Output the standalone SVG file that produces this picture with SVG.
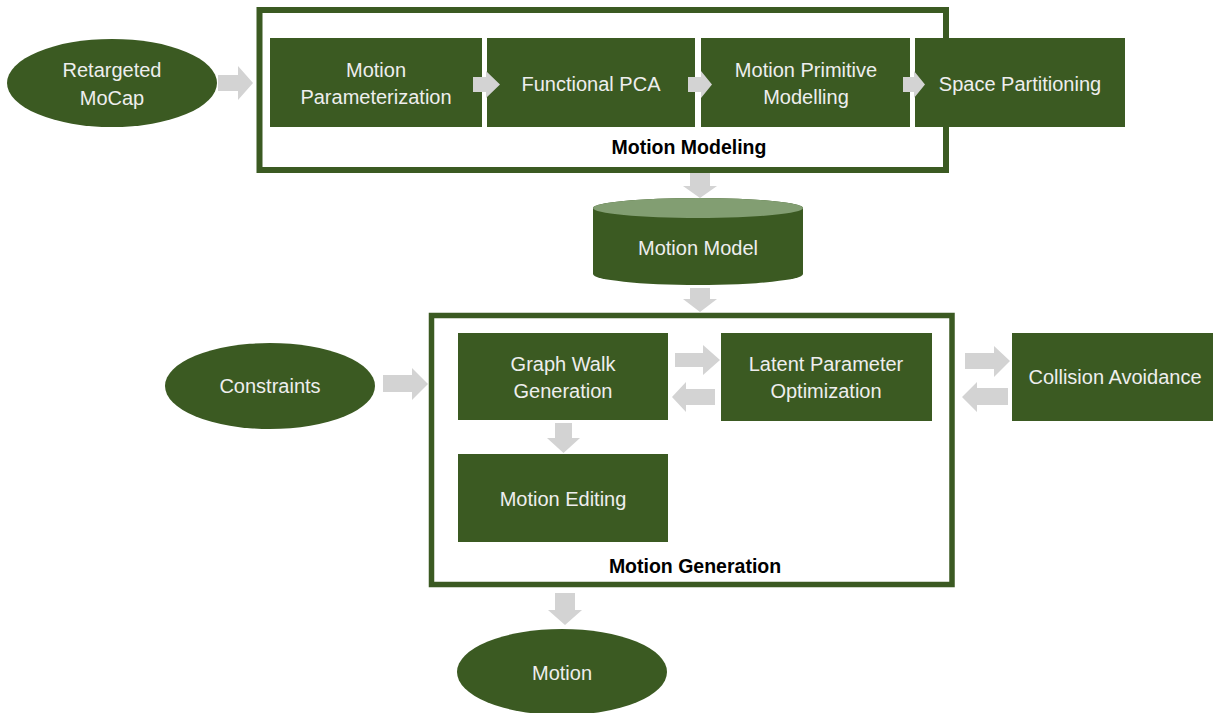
<svg xmlns="http://www.w3.org/2000/svg" width="1213" height="713" viewBox="0 0 1213 713">
<style>
.n{fill:#3B5A22}
.frame{fill:none;stroke:#3B5A22}
.t{font-family:"Liberation Sans",Arial,sans-serif;font-size:20px;fill:#EEEEEE;text-anchor:middle}
.b{font-family:"Liberation Sans",Arial,sans-serif;font-size:19.5px;font-weight:bold;fill:#000;text-anchor:middle}
.a{fill:#D3D3D3}
</style>
<rect width="1213" height="713" fill="#FFFFFF"/>
<g id="motion-modeling-group">
<rect class="frame" x="259.5" y="10" width="686.5" height="160" stroke-width="6"/>
<text class="b" x="689" y="154">Motion Modeling</text>
</g>
<g id="motion-generation-group">
<rect class="frame" x="431.5" y="315.5" width="520.5" height="269" stroke-width="5.5"/>
<text class="b" x="695" y="573">Motion Generation</text>
</g>
<g id="retargeted-mocap">
<ellipse class="n" cx="112" cy="83" rx="105" ry="44"/>
<text class="t" x="112" y="77">Retargeted</text>
<text class="t" x="112" y="105">MoCap</text>
</g>
<g id="motion-parameterization">
<rect class="n" x="270" y="38" width="212" height="89"/>
<text class="t" x="376" y="77">Motion</text>
<text class="t" x="376" y="104">Parameterization</text>
</g>
<g id="functional-pca">
<rect class="n" x="487" y="38" width="208" height="89"/>
<text class="t" x="591" y="91">Functional PCA</text>
</g>
<g id="motion-primitive-modelling">
<rect class="n" x="701" y="38" width="209" height="89"/>
<text class="t" x="806" y="77">Motion Primitive</text>
<text class="t" x="806" y="104">Modelling</text>
</g>
<g id="space-partitioning">
<rect class="n" x="915" y="38" width="210" height="89"/>
<text class="t" x="1020" y="91">Space Partitioning</text>
</g>
<g id="motion-model">
<path class="n" d="M593,208 L593,274 A105,11 0 0 0 803,274 L803,208 A105,10 0 0 0 593,208 Z"/>
<ellipse cx="698" cy="208" rx="105" ry="10" fill="#829E72"/>
<text class="t" x="698" y="255">Motion Model</text>
</g>
<g id="constraints">
<ellipse class="n" cx="270" cy="386" rx="105" ry="43"/>
<text class="t" x="270" y="393">Constraints</text>
</g>
<g id="graph-walk-generation">
<rect class="n" x="458" y="333" width="210" height="87"/>
<text class="t" x="563" y="371">Graph Walk</text>
<text class="t" x="563" y="398">Generation</text>
</g>
<g id="latent-parameter-optimization">
<rect class="n" x="721" y="333" width="211" height="88"/>
<text class="t" x="826" y="371">Latent Parameter</text>
<text class="t" x="826" y="398">Optimization</text>
</g>
<g id="collision-avoidance">
<rect class="n" x="1012" y="333" width="205" height="88"/>
<text class="t" x="1115" y="384">Collision Avoidance</text>
</g>
<g id="motion-editing">
<rect class="n" x="458" y="454" width="210" height="88"/>
<text class="t" x="563" y="506">Motion Editing</text>
</g>
<g id="motion">
<ellipse class="n" cx="562" cy="672" rx="105" ry="43"/>
<text class="t" x="562" y="680">Motion</text>
</g>
<g id="connectors">
<polygon class="a" points="218,75 238,75 238,66 253,83 238,100 238,91 218,91"/>
<polygon class="a" points="473,77 486,77 486,71 500,84.5 486,98 486,92 473,92"/>
<polygon class="a" points="688,77 701,77 701,71 712,84.5 701,98 701,92 688,92"/>
<polygon class="a" points="903,77 914,77 914,71 925,84.5 914,98 914,92 903,92"/>
<polygon class="a" points="690,173 710,173 710,186 717,186 700,198 683,186 690,186"/>
<polygon class="a" points="690,288 710,288 710,299 717,299 700,312 683,299 690,299"/>
<polygon class="a" points="383,375 412,375 412,368 428,384 412,400 412,392 383,392"/>
<polygon class="a" points="675,353 703,353 703,345 720,360 703,375 703,367 675,367"/>
<polygon class="a" points="715,389 686,389 686,382 672,397 686,412 686,405 715,405"/>
<polygon class="a" points="965,353 994,353 994,346 1010,361 994,377 994,369 965,369"/>
<polygon class="a" points="1008,388 977,388 977,382 962,397 977,412 977,405 1008,405"/>
<polygon class="a" points="555,423 572,423 572,438 580,438 563.5,453 547,438 555,438"/>
<polygon class="a" points="555,593 575,593 575,610 582,610 565,625 548,610 555,610"/>
</g>
</svg>
